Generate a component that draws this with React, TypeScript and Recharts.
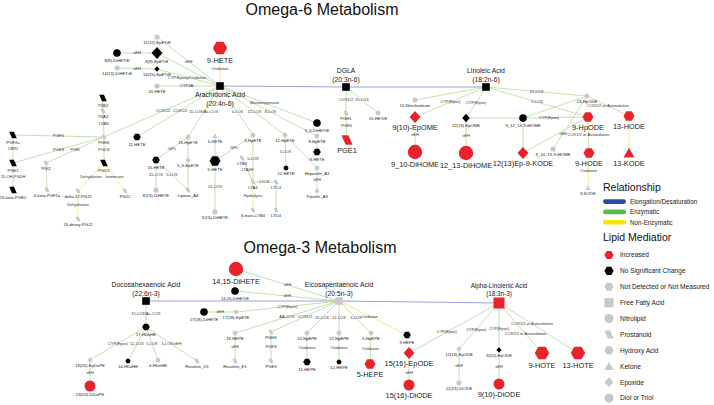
import React from "react";
import { ScatterChart, Scatter, XAxis, YAxis, ReferenceLine, Customized } from "recharts";

type Node = [string, number, number, string, string, string];
type Edge = [string, string, string, string?, number?];

const FONT = "'Liberation Sans', Arial, sans-serif";

// free fatty acids (name, x, y, shape, status, size)
const FATTY_ACIDS: Node[] = [
  ["Arachidonic Acid", 220, 86, "sq", "ns", "m"],
  ["DGLA", 346, 87, "sq", "ns", "m"],
  ["Linoleic Acid", 486, 87, "sq", "ns", "m"],
  ["Docosahexaenoic Acid", 146, 301, "sq", "ns", "m"],
  ["Eicosapentaenoic Acid", 339, 301, "sq", "nd", "m"],
  ["Alpha-Linolenic Acid", 499, 303, "sq", "up", "l"],
];
const CHAINS = ["(20:4n-6)", "(20:3n-6)", "(18:2n-6)", "(22:6n-3)", "(20:5n-3)", "(18:3n-3)"];
const LABEL_BELOW = ["Arachidonic Acid"];

const OMEGA6_NODES: Node[] = [
  ["9-HETE", 220, 48, "hx", "up", "xl"],
  ["11(12)-EpETrE", 157, 37, "ci", "nd", "s"],
  ["8(9)-EpETrE", 157, 53, "di", "ns", "l"],
  ["8(9)-DiHETrE", 117, 53, "ci", "ns", "m"],
  ["14(15)-EpETrE", 157, 69, "di", "ns", "s"],
  ["14(15)-DiHETrE", 117, 68, "ci", "nd", "s"],
  ["20-HETE", 157, 86, "ci", "nd", "s"],
  ["TXB2", 103, 98, "pg", "ns", "m"],
  ["TXA2", 103, 111, "pg", "nd", "s"],
  ["PGH2", 104, 137, "pg", "nd", "s"],
  ["PGF2a", 13, 135, "pg", "ns", "m"],
  ["PGE2", 13, 163, "pg", "ns", "m"],
  ["15-keto-PGE2", 13, 190, "pg", "ns", "m"],
  ["PGI2", 46, 163, "pg", "nd", "s"],
  ["6-keto-PGF1a", 47, 190, "pg", "nd", "s"],
  ["PGD2", 104, 163, "pg", "ns", "m"],
  ["delta-12-PGJ2", 78, 191, "pg", "nd", "s"],
  ["15-deoxy-PGJ2", 78, 219, "pg", "nd", "s"],
  ["PGJ2", 125, 191, "pg", "nd", "s"],
  ["11-HETE", 137, 137, "hx", "ns", "m"],
  ["15-HpETE", 188, 137, "hx", "nd", "s"],
  ["15-HETE", 156, 160, "hx", "ns", "m"],
  ["5_6-EpETE", 188, 160, "di", "nd", "s"],
  ["8(15)-DiHETE", 156, 190, "ci", "nd", "s"],
  ["Lipoxin_A4", 188, 190, "pg", "nd", "s"],
  ["5-KETE", 215, 136, "tr", "nd", "s"],
  ["5-HETE", 215, 161, "hx", "ns", "l"],
  ["5(15)-DiHETE", 215, 212, "ci", "nd", "s"],
  ["5-HpETE", 253, 135, "hx", "nd", "s"],
  ["LTB4", 242, 158, "pg", "nd", "s"],
  ["LTA4", 253, 182, "pg", "nd", "s"],
  ["LTC4", 276, 182, "pg", "nd", "s"],
  ["6-trans-LTB4", 253, 210, "pg", "nd", "s"],
  ["LTD4", 276, 210, "pg", "nd", "s"],
  ["12-HpETE", 285, 135, "hx", "nd", "s"],
  ["12-HETE", 286, 168, "hx", "ns", "s"],
  ["5_6-DiHETrE", 317, 123, "ci", "ns", "m"],
  ["8-HpETE", 317, 136, "hx", "nd", "s"],
  ["8-HETE", 317, 152, "hx", "ns", "m"],
  ["Hepoxilin_A3", 317, 168, "hx", "nd", "s"],
  ["Trioxilin_A3", 317, 191, "di", "nd", "s"],
  ["PGH1", 346, 113, "pg", "nd", "s"],
  ["15-HETrE", 378, 113, "hx", "nd", "s"],
  ["PGE1", 347, 140, "pg", "up", "l"],
  ["10-Nitrolinoleate", 415, 100, "ci", "nd", "s"],
  ["9(10)-EpOME", 415, 117, "di", "up", "l"],
  ["9_10-DiHOME", 415, 152, "ci", "up", "xl"],
  ["12(13)-EpOME", 466, 118, "di", "ns", "m"],
  ["12_13-DiHOME", 466, 153, "ci", "up", "xl"],
  ["9_12_13-TriHOME", 523, 118, "ci", "ns", "m"],
  ["12(13)Ep-9-KODE", 523, 153, "di", "up", "l"],
  ["13-HpODE", 587, 96, "hx", "nd", "s"],
  ["9-HpODE", 588, 117, "hx", "up", "l"],
  ["13-HODE", 629, 116, "hx", "up", "l"],
  ["9_10_13-TriHOME", 553, 149, "ci", "nd", "s"],
  ["9-HODE", 589, 153, "hx", "up", "l"],
  ["13-KODE", 629, 153, "tr", "up", "l"],
  ["9-KODE", 588, 188, "tr", "nd", "s"],
];

const OMEGA3_NODES: Node[] = [
  ["14,15-DiHETE", 236, 269, "ci", "up", "xl"],
  ["14,15-DiHETrE", 235, 291, "ci", "ns", "m"],
  ["17(18)-DiHETE", 204, 312, "ci", "ns", "m"],
  ["17(18)-EpETE", 236, 312, "di", "nd", "s"],
  ["17-HDoHE", 146, 327, "hx", "ns", "m"],
  ["19(20)-EpDoPE", 90, 360, "di", "nd", "s"],
  ["19(20)-DiDoPE", 90, 386, "ci", "up", "l"],
  ["14-HDoHE", 128, 361, "hx", "ns", "s"],
  ["4-HDoHE", 158, 360, "hx", "nd", "s"],
  ["Resolvin_D1", 197, 361, "pg", "nd", "s"],
  ["18-HEPE", 235, 333, "hx", "nd", "s"],
  ["Resolvin_E1", 235, 361, "pg", "nd", "s"],
  ["PGH3", 271, 332, "pg", "nd", "s"],
  ["PGE3", 271, 361, "pg", "nd", "s"],
  ["15-HpEPE", 307, 333, "hx", "nd", "s"],
  ["15-HEPE", 307, 362, "hx", "ns", "m"],
  ["12-HpEPE", 339, 333, "hx", "nd", "s"],
  ["12-HEPE", 339, 362, "hx", "ns", "s"],
  ["5-HpEPE", 371, 333, "hx", "nd", "s"],
  ["5-HEPE", 370, 364, "hx", "up", "l"],
  ["9-HEPE", 407, 335, "hx", "ns", "m"],
  ["15(16)-EpODE", 409, 353, "di", "up", "l"],
  ["15(16)-DiODE", 409, 385, "ci", "up", "l"],
  ["12(13)-EpODE", 459, 349, "di", "nd", "s"],
  ["12(13)-DiODE", 459, 383, "ci", "nd", "s"],
  ["9(10)-EpODE", 499, 350, "di", "ns", "s"],
  ["9(10)-DiODE", 499, 384, "ci", "up", "l"],
  ["9-HOTE", 542, 353, "hx", "up", "xl"],
  ["13-HOTE", 578, 353, "hx", "up", "xl"],
];

const FEATURED = [
  "9-HETE", "PGE1", "9(10)-EpOME", "9_10-DiHOME", "12_13-DiHOME", "12(13)Ep-9-KODE",
  "9-HpODE", "13-HODE", "9-HODE", "13-KODE", "14,15-DiHETE", "5-HEPE", "15(16)-EpODE",
  "15(16)-DiODE", "9(10)-DiODE", "9-HOTE", "13-HOTE",
];

// E = elongation/desaturation, Z = enzymatic, N = non-enzymatic
const EDGES: Edge[] = [
  ["Arachidonic Acid", "DGLA", "E"],
  ["DGLA", "Linoleic Acid", "E"],
  ["Arachidonic Acid", "9-HETE", "N", "Oxidation", 0.45],
  ["Arachidonic Acid", "11(12)-EpETrE", "Z", "sEH", 0.5],
  ["Arachidonic Acid", "8(9)-EpETrE", "Z"],
  ["8(9)-EpETrE", "8(9)-DiHETrE", "Z", "sEH"],
  ["Arachidonic Acid", "14(15)-EpETrE", "Z", "CYP/Epoxy/Oxidation", 0.52],
  ["14(15)-EpETrE", "14(15)-DiHETrE", "Z", "sEH"],
  ["Arachidonic Acid", "20-HETE", "Z", "CYP4A", 0.53],
  ["Arachidonic Acid", "PGH2", "Z", "COX1/2", 0.49],
  ["Arachidonic Acid", "11-HETE", "Z", "COX1/2", 0.48],
  ["Arachidonic Acid", "15-HpETE", "Z", "15-LOX/Ac-COX", 0.51],
  ["Arachidonic Acid", "5-HpETE", "Z", "5-LOX", 0.53],
  ["Arachidonic Acid", "12-HpETE", "Z", "12-LOX", 0.53],
  ["Arachidonic Acid", "8-HpETE", "Z", "8-LOX", 0.52],
  ["Arachidonic Acid", "5_6-DiHETrE", "Z", "Monooxygenase", 0.46],
  ["PGH2", "TXA2", "Z", "TXAS"],
  ["TXA2", "TXB2", "Z"],
  ["PGH2", "PGF2a", "Z", "PGFS"],
  ["PGH2", "PGE2", "Z", "PGES"],
  ["PGH2", "PGI2", "Z", "PGIS"],
  ["PGF2a", "PGE2", "Z", "CBR1"],
  ["PGE2", "15-keto-PGE2", "Z", "15-OH-PGDH"],
  ["PGI2", "6-keto-PGF1a", "Z"],
  ["PGH2", "PGD2", "Z", "PGDS"],
  ["PGD2", "delta-12-PGJ2", "N", "Dehydration"],
  ["PGD2", "PGJ2", "N", "Isomerase"],
  ["delta-12-PGJ2", "15-deoxy-PGJ2", "N", "Dehydration"],
  ["15-HpETE", "15-HETE", "Z", "GPx"],
  ["15-HpETE", "5_6-EpETE", "Z"],
  ["15-HETE", "8(15)-DiHETE", "Z", "15-LOX"],
  ["15-HETE", "Lipoxin_A4", "Z", "5-LOX"],
  ["5_6-EpETE", "Lipoxin_A4", "Z"],
  ["5-HpETE", "5-HETE", "Z", "GPx"],
  ["5-KETE", "5-HETE", "Z"],
  ["5-HETE", "5(15)-DiHETE", "Z", "15-LOX"],
  ["5-HpETE", "LTA4", "Z", "5-LOX"],
  ["LTA4", "LTB4", "Z", "LTA4H"],
  ["LTA4", "LTC4", "Z", "LTCS"],
  ["LTA4", "6-trans-LTB4", "N", "Hydrolysis"],
  ["LTC4", "LTD4", "Z"],
  ["12-HpETE", "12-HETE", "Z", "5-LOX"],
  ["12-HpETE", "Hepoxilin_A3", "Z"],
  ["8-HpETE", "8-HETE", "Z"],
  ["Hepoxilin_A3", "Trioxilin_A3", "Z", "sEH"],
  ["DGLA", "PGH1", "Z", "COX1/2"],
  ["DGLA", "15-HETrE", "Z", "15-LOX"],
  ["PGH1", "PGE1", "Z", "PGES", 0.45],
  ["Linoleic Acid", "10-Nitrolinoleate", "Z"],
  ["Linoleic Acid", "9(10)-EpOME", "Z", "CYP(Epox)"],
  ["Linoleic Acid", "12(13)-EpOME", "Z", "CYP(Epox)"],
  ["9(10)-EpOME", "9_10-DiHOME", "Z", "sEH"],
  ["12(13)-EpOME", "12_13-DiHOME", "Z", "sEH"],
  ["12(13)-EpOME", "9_12_13-TriHOME", "Z"],
  ["9_12_13-TriHOME", "9-HpODE", "Z", "CYP(Epox)", 0.4],
  ["9_12_13-TriHOME", "13-HpODE", "Z"],
  ["9_12_13-TriHOME", "12(13)Ep-9-KODE", "Z"],
  ["Linoleic Acid", "13-HpODE", "Z", "15-LOX"],
  ["Linoleic Acid", "9-HpODE", "Z", "5-LOX"],
  ["13-HpODE", "13-HODE", "Z", "COX1/2 or Autoxidation"],
  ["13-HpODE", "9_10_13-TriHOME", "Z", "sEH", 0.7],
  ["9-HpODE", "9-HODE", "Z", "COX1/2 or Autoxidation"],
  ["9-HpODE", "12(13)Ep-9-KODE", "Z"],
  ["13-HODE", "13-KODE", "N"],
  ["9-HODE", "9-KODE", "N", "Oxidation"],
  ["Docosahexaenoic Acid", "Eicosapentaenoic Acid", "E"],
  ["Eicosapentaenoic Acid", "Alpha-Linolenic Acid", "E"],
  ["Eicosapentaenoic Acid", "14,15-DiHETE", "Z", "sEH"],
  ["Eicosapentaenoic Acid", "14,15-DiHETrE", "Z", "sEH"],
  ["Eicosapentaenoic Acid", "17(18)-EpETE", "Z", "CYP(Epox)"],
  ["17(18)-EpETE", "17(18)-DiHETE", "Z", "sEH"],
  ["Eicosapentaenoic Acid", "18-HEPE", "Z", "AA-COX"],
  ["Eicosapentaenoic Acid", "PGH3", "Z", "COX1/2"],
  ["Eicosapentaenoic Acid", "15-HpEPE", "Z", "15-LOX", 0.53],
  ["Eicosapentaenoic Acid", "12-HpEPE", "Z", "12-LOX", 0.53],
  ["Eicosapentaenoic Acid", "5-HpEPE", "Z", "5-LOX", 0.53],
  ["Eicosapentaenoic Acid", "9-HEPE", "N", "Oxidation", 0.45],
  ["18-HEPE", "Resolvin_E1", "Z", "sEH"],
  ["PGH3", "PGE3", "Z", "PGES"],
  ["15-HpEPE", "15-HEPE", "Z", "Oxidation"],
  ["12-HpEPE", "12-HEPE", "Z", "Oxidation"],
  ["5-HpEPE", "5-HEPE", "Z", "Oxidation"],
  ["Docosahexaenoic Acid", "17-HDoHE", "Z", "15-LOX/Ac-COX"],
  ["17-HDoHE", "19(20)-EpDoPE", "Z", "CYP(Epox)"],
  ["17-HDoHE", "14-HDoHE", "Z", "12-LOX"],
  ["17-HDoHE", "4-HDoHE", "Z", "5-LOX"],
  ["17-HDoHE", "Resolvin_D1", "Z", "5-LOX/sEH"],
  ["19(20)-EpDoPE", "19(20)-DiDoPE", "Z", "sEH"],
  ["Alpha-Linolenic Acid", "15(16)-EpODE", "Z", "CYP(Epox)", 0.58],
  ["Alpha-Linolenic Acid", "12(13)-EpODE", "Z", "CYP(Epox)", 0.57],
  ["Alpha-Linolenic Acid", "9(10)-EpODE", "Z", "CYP(Epox)", 0.55],
  ["12(13)-EpODE", "12(13)-DiODE", "Z", "sEH"],
  ["9(10)-EpODE", "9(10)-DiODE", "Z", "sEH"],
  ["Alpha-Linolenic Acid", "9-HOTE", "Z", "COX1/2 or Autoxidation", 0.62],
  ["Alpha-Linolenic Acid", "13-HOTE", "Z", "COX1/2 or Autoxidation", 0.42],
  ["15(16)-EpODE", "15(16)-DiODE", "Z", "sEH", 0.62],
];

const RELATIONSHIPS = ["Elongation/Desaturation", "Enzymatic", "Non-Enzymatic"];
const MEDIATORS: [string, string, string][] = [
  ["Increased", "hx", "up"],
  ["No Significant Change", "hx", "ns"],
  ["Not Detected or Not Measured", "hx", "nd"],
  ["Free Fatty Acid", "sq", "nd"],
  ["Nitrolipid", "ci", "nd"],
  ["Prostanoid", "pg", "nd"],
  ["Hydroxy Acid", "hx", "nd"],
  ["Ketone", "tr", "nd"],
  ["Epoxide", "di", "nd"],
  ["Diol or Triol", "ci", "nd"],
];

const STATUS_COLOR: Record<string, string> = { up: "#e8232b", ns: "#000000", nd: "#c8c8c8" };
const EDGE_STYLE: Record<string, { stroke: string; width: number }> = {
  E: { stroke: "#9aa1d4", width: 1 },
  Z: { stroke: "#b8d89c", width: 0.8 },
  N: { stroke: "#efe97a", width: 0.9 },
};
const LEGEND_PILL = ["#2b4ba6", "#5db84b", "#f3e600"];
const RADIUS: Record<string, number> = { s: 2.6, m: 3.8, l: 5.5, xl: 7.2 };

const toPoint = (n: Node, i: number, chain?: string) => ({
  name: n[0], x: n[1], y: n[2], shape: n[3], status: n[4], size: n[5], chain,
});
const ffaData = FATTY_ACIDS.map((n, i) => toPoint(n, i, CHAINS[i]));
const nodeData = [...OMEGA6_NODES, ...OMEGA3_NODES].map((n, i) => toPoint(n, i));
const byName: Record<string, any> = {};
[...ffaData, ...nodeData].forEach((d) => (byName[d.name] = d));

const edgeLabelData = EDGES.filter((e) => e[3]).map((e) => {
  const a = byName[e[0]];
  const b = byName[e[1]];
  const t = e[4] ?? 0.5;
  return { x: a.x + (b.x - a.x) * t, y: a.y + (b.y - a.y) * t, text: e[3] };
});

function glyph(shape: string, cx: number, cy: number, r: number, fill: string) {
  switch (shape) {
    case "sq":
      return <rect x={cx - r} y={cy - r} width={2 * r} height={2 * r} fill={fill} />;
    case "ci":
      return <circle cx={cx} cy={cy} r={r} fill={fill} />;
    case "hx": {
      const h = r * 0.88;
      const pts = [[-r, 0], [-r / 2, -h], [r / 2, -h], [r, 0], [r / 2, h], [-r / 2, h]];
      return <polygon points={pts.map(([x, y]) => `${cx + x},${cy + y}`).join(" ")} fill={fill} />;
    }
    case "di": {
      const pts = [[0, -r * 1.1], [r, 0], [0, r * 1.1], [-r, 0]];
      return <polygon points={pts.map(([x, y]) => `${cx + x},${cy + y}`).join(" ")} fill={fill} />;
    }
    case "pg": {
      const h = r * 0.85;
      const pts = [[-r, -h], [r * 0.25, -h], [r, h], [-r * 0.25, h]];
      return <polygon points={pts.map(([x, y]) => `${cx + x},${cy + y}`).join(" ")} fill={fill} />;
    }
    case "tr": {
      const pts = [[0, -r * 0.95], [r, r * 0.8], [-r, r * 0.8]];
      return <polygon points={pts.map(([x, y]) => `${cx + x},${cy + y}`).join(" ")} fill={fill} />;
    }
  }
  return null;
}

const NodeShape = (props: any) => {
  const { cx, cy, payload } = props;
  const r = RADIUS[payload.size];
  const fill = STATUS_COLOR[payload.status];
  if (payload.chain) {
    const fs = payload.name === "Alpha-Linolenic Acid" ? 6.3 : 6.8;
    const below = LABEL_BELOW.includes(payload.name);
    const y1 = below ? cy + r + fs + 0.6 : cy - r - fs - 3;
    return (
      <g>
        {glyph(payload.shape, cx, cy, r, fill)}
        <text x={cx} y={y1} textAnchor="middle" fontSize={fs} fill="#222" fontFamily={FONT}>
          {payload.name}
        </text>
        <text x={cx} y={y1 + fs + 1.6} textAnchor="middle" fontSize={fs} fill="#222" fontFamily={FONT}>
          {payload.chain}
        </text>
      </g>
    );
  }
  const big = FEATURED.includes(payload.name);
  const fs = big ? 7.4 : 4.2;
  return (
    <g>
      {glyph(payload.shape, cx, cy, r, fill)}
      <text x={cx} y={cy + r + fs + (big ? 0.4 : 0.6)} textAnchor="middle" fontSize={fs} fill="#222" fontFamily={FONT}>
        {payload.name}
      </text>
    </g>
  );
};

const EdgeLabel = (props: any) => {
  const { cx, cy, payload } = props;
  return (
    <text x={cx} y={cy + 1.4} textAnchor="middle" fontSize={4} fill="#333" fontFamily={FONT}>
      {payload.text}
    </text>
  );
};

const Decorations = () => (
  <g fontFamily={FONT}>
    <text x={322} y={15} textAnchor="middle" fontSize={16} fill="#111">Omega-6 Metabolism</text>
    <text x={320} y={253} textAnchor="middle" fontSize={16} fill="#111">Omega-3 Metabolism</text>
    <text x={603} y={191} fontSize={10.5} fill="#111">Relationship</text>
    {RELATIONSHIPS.map((name, i) => (
      <g key={name}>
        <rect x={603} y={199.3 + i * 10.3} width={23} height={4.6} rx={2.3} fill={LEGEND_PILL[i]} />
        <text x={630} y={204 + i * 10.3} fontSize={6.3} fill="#222">{name}</text>
      </g>
    ))}
    <text x={603} y={241} fontSize={10.5} fill="#111">Lipid Mediatior</text>
    {MEDIATORS.map(([name, shape, status], i) => (
      <g key={name}>
        {glyph(shape, 609, 255 + i * 15.9, 4.6, STATUS_COLOR[status])}
        <text x={620} y={257.3 + i * 15.9} fontSize={6.6} fill="#222">{name}</text>
      </g>
    ))}
  </g>
);

export default function App() {
  return (
    <div style={{ position: "absolute", left: 0, top: 0, width: 714, height: 405, background: "#fff" }}>
      <ScatterChart width={714} height={405} margin={{ top: 0, right: 0, bottom: 0, left: 0 }}>
        <XAxis type="number" dataKey="x" domain={[0, 714]} hide />
        <YAxis type="number" dataKey="y" domain={[0, 405]} reversed hide />
        {EDGES.map((e, i) => {
          const a = byName[e[0]];
          const b = byName[e[1]];
          const st = EDGE_STYLE[e[2]];
          return (
            <ReferenceLine
              key={i}
              segment={[{ x: a.x, y: a.y }, { x: b.x, y: b.y }]}
              stroke={st.stroke}
              strokeWidth={st.width}
              ifOverflow="visible"
            />
          );
        })}
        <Scatter data={edgeLabelData} shape={EdgeLabel} isAnimationActive={false} />
        <Scatter data={nodeData} shape={NodeShape} isAnimationActive={false} />
        <Scatter data={ffaData} shape={NodeShape} isAnimationActive={false} />
        <Customized component={Decorations} />
      </ScatterChart>
    </div>
  );
}
